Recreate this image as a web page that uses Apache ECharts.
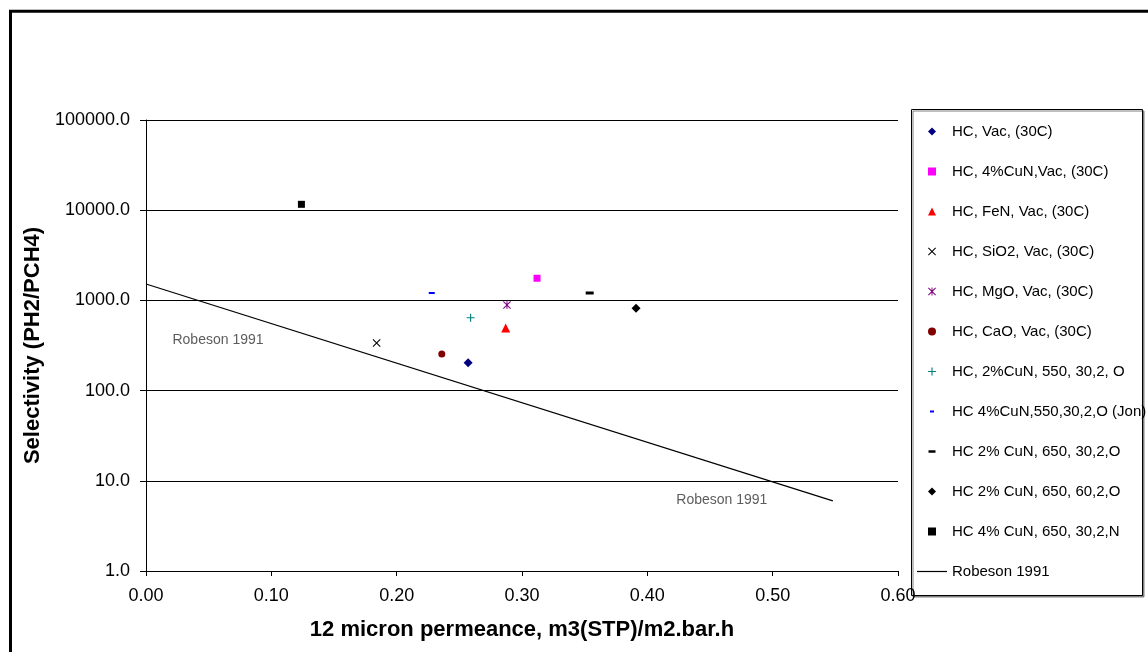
<!DOCTYPE html>
<html>
<head>
<meta charset="utf-8">
<script src="https://cdn.jsdelivr.net/npm/echarts@6/dist/echarts.min.js"></script>
<style>
html,body{margin:0;padding:0;background:#fff;}
#chart{width:1148px;height:652px;}
</style>
</head>
<body>
<div id="chart"></div>
<script>
// ---- data ----
const seriesNames = [
  'HC, Vac, (30C)',
  'HC, 4%CuN,Vac, (30C)',
  'HC, FeN, Vac, (30C)',
  'HC, SiO2, Vac, (30C)',
  'HC, MgO, Vac, (30C)',
  'HC, CaO, Vac, (30C)',
  'HC, 2%CuN, 550, 30,2, O',
  'HC 4%CuN,550,30,2,O (Jon)',
  'HC 2% CuN, 650, 30,2,O',
  'HC 2% CuN, 650, 60,2,O',
  'HC 4% CuN, 650, 30,2,N'
];
const permeance   = [0.257, 0.312, 0.287, 0.184, 0.288, 0.236, 0.259, 0.228, 0.354, 0.391, 0.124];
const selectivity = [204, 1760, 494, 337, 889, 255, 643, 1208, 1208, 817, 11620];

const robesonName = 'Robeson 1991';
const robesonX = [0, 0.548];
const robesonY = [1520, 6];
const robesonLabels = ['Robeson 1991', 'Robeson 1991'];

const xTicks = { min: 0, max: 0.6, interval: 0.1 };
const yTicks = { min: 1, max: 100000 };

// ---- styling ----
const P_X = 'path://M0,0.9 L0.9,0 L5,4.1 L9.1,0 L10,0.9 L5.9,5 L10,9.1 L9.1,10 L5,5.9 L0.9,10 L0,9.1 L4.1,5 Z';
const P_AST = 'path://M0,0.9 L0.9,0 L5,4.1 L9.1,0 L10,0.9 L5.9,5 L10,9.1 L9.1,10 L5,5.9 L0.9,10 L0,9.1 L4.1,5 Z M4.4,0 L5.6,0 L5.6,10 L4.4,10 Z';
const P_PLUS = 'path://M4.3,0 L5.7,0 L5.7,4.3 L10,4.3 L10,5.7 L5.7,5.7 L5.7,10 L4.3,10 L4.3,5.7 L0,5.7 L0,4.3 L4.3,4.3 Z';
const P_DASH = 'path://M0,0 L8,0 L8,2.5 L0,2.5 Z';
const P_DIAM = 'path://M5,0 L10,5 L5,10 L0,5 Z';
const P_SQ = 'path://M0,0 L10,0 L10,10 L0,10 Z';
const P_TRI = 'path://M5,0 L10,10 L0,10 Z';
const P_CIRC = 'path://M5,0 A5,5 0 1,1 5,10 A5,5 0 1,1 5,0 Z';
const P_LINE = 'path://M0,0 L30,0 L30,1.2 L0,1.2 Z';
// legend-only dash icons padded to a square box so they stay small
const P_DASH_S = 'path://M0,-3 M8,5 M2,0 L6,0 L6,2 L2,2 Z';
const P_DASH_L = 'path://M0,-2.75 M8,5.25 M0.5,0 L7.5,0 L7.5,2.5 L0.5,2.5 Z';

const styles = [
  { symbol: 'diamond', size: 9, color: '#000080', icon: P_DIAM },
  { symbol: 'rect', size: 7, color: '#FF00FF', icon: P_SQ },
  { symbol: 'triangle', size: 9, color: '#FF0000', icon: P_TRI },
  { symbol: P_X, size: 8, color: '#000000', icon: P_X },
  { symbol: P_AST, size: 8, color: '#800080', icon: P_AST },
  { symbol: 'circle', size: 7, color: '#800000', icon: P_CIRC },
  { symbol: P_PLUS, size: 8, color: '#008080', icon: P_PLUS },
  { symbol: P_DASH, size: [6, 2], color: '#0000FF', icon: P_DASH_S },
  { symbol: P_DASH, size: [8, 3], color: '#000000', icon: P_DASH_L },
  { symbol: 'diamond', size: 9, color: '#000000', icon: P_DIAM },
  { symbol: 'rect', size: 7, color: '#000000', icon: P_SQ }
];

const FONT = '"Liberation Sans", Arial, sans-serif';

const series = seriesNames.map((name, i) => ({
  name: name,
  type: 'scatter',
  data: [[permeance[i], selectivity[i]]],
  symbol: styles[i].symbol,
  symbolSize: styles[i].size,
  itemStyle: { color: styles[i].color, opacity: 1 },
  z: 3
}));

series.push({
  name: robesonName,
  type: 'line',
  data: robesonX.map((x, i) => [x, robesonY[i]]),
  symbol: 'none',
  lineStyle: { color: '#000', width: 1.3 },
  itemStyle: { color: '#000' },
  z: 2
});

const labelOffsets = [[72, 56], [-111, -1]];
series.push({
  name: 'robeson-labels',
  type: 'scatter',
  silent: true,
  symbolSize: 0,
  data: robesonX.map((x, i) => ({
    value: [x, robesonY[i]],
    label: { offset: labelOffsets[i] }
  })),
  label: {
    show: true,
    position: 'inside',
    formatter: p => robesonLabels[p.dataIndex],
    fontSize: 14,
    color: '#333',
    fontFamily: FONT
  },
  z: 4
});

const legendData = seriesNames.map((n, i) => ({ name: n, icon: styles[i].icon }));
legendData.push({ name: robesonName, icon: P_LINE });

const option = {
  animation: false,
  backgroundColor: '#fff',
  textStyle: { fontFamily: FONT },
  grid: { left: 146, right: 250, top: 120, bottom: 81 },
  xAxis: {
    type: 'value',
    min: xTicks.min, max: xTicks.max, interval: xTicks.interval,
    name: '12 micron permeance, m3(STP)/m2.bar.h',
    nameLocation: 'middle',
    nameGap: 48,
    nameTextStyle: { fontSize: 22, fontWeight: 'bold', color: '#000', fontFamily: FONT },
    axisLine: { show: true, onZero: false, lineStyle: { color: '#000', width: 1 } },
    axisTick: { show: true, length: 5, lineStyle: { color: '#000' } },
    axisLabel: { fontSize: 18, color: '#000', margin: 16, fontFamily: FONT,
                 formatter: v => v.toFixed(2) },
    splitLine: { show: false }
  },
  yAxis: {
    type: 'log',
    logBase: 10,
    min: yTicks.min, max: yTicks.max,
    name: 'Selectivity (PH2/PCH4)',
    nameLocation: 'middle',
    nameGap: 100,
    nameTextStyle: { fontSize: 22, fontWeight: 'bold', color: '#000', fontFamily: FONT },
    axisLine: { show: true, onZero: false, lineStyle: { color: '#000', width: 1 } },
    axisTick: { show: true, length: 6, lineStyle: { color: '#000' } },
    axisLabel: { fontSize: 18, color: '#000', margin: 16, fontFamily: FONT,
                 formatter: v => Number(v).toFixed(1) },
    splitLine: { show: true, lineStyle: { color: '#000', width: 1 } },
    minorTick: { show: false }
  },
  legend: {
    orient: 'vertical',
    left: 917,
    top: 123.5,
    padding: 0,
    itemWidth: 30,
    itemHeight: 8,
    itemGap: 24,
    selectedMode: false,
    data: legendData,
    textStyle: { fontSize: 15, lineHeight: 16, color: '#000', fontFamily: FONT }
  },
  graphic: [
    {
      type: 'rect', z: 0,
      shape: { x: 911.5, y: 109.5, width: 231, height: 486 },
      style: { fill: '#fff', stroke: '#000', lineWidth: 1,
               shadowColor: '#808080', shadowOffsetX: 1.5, shadowOffsetY: 1.5, shadowBlur: 0 }
    },
    {
      type: 'polyline', z: 0,
      shape: { points: [[10.5, 660], [10.5, 11.3], [1160, 11.3]] },
      style: { stroke: '#000', lineWidth: 3, fill: null }
    }
  ],
  series: series
};

const chart = echarts.init(document.getElementById('chart'), null, { renderer: 'canvas' });
chart.setOption(option);
</script>
</body>
</html>
